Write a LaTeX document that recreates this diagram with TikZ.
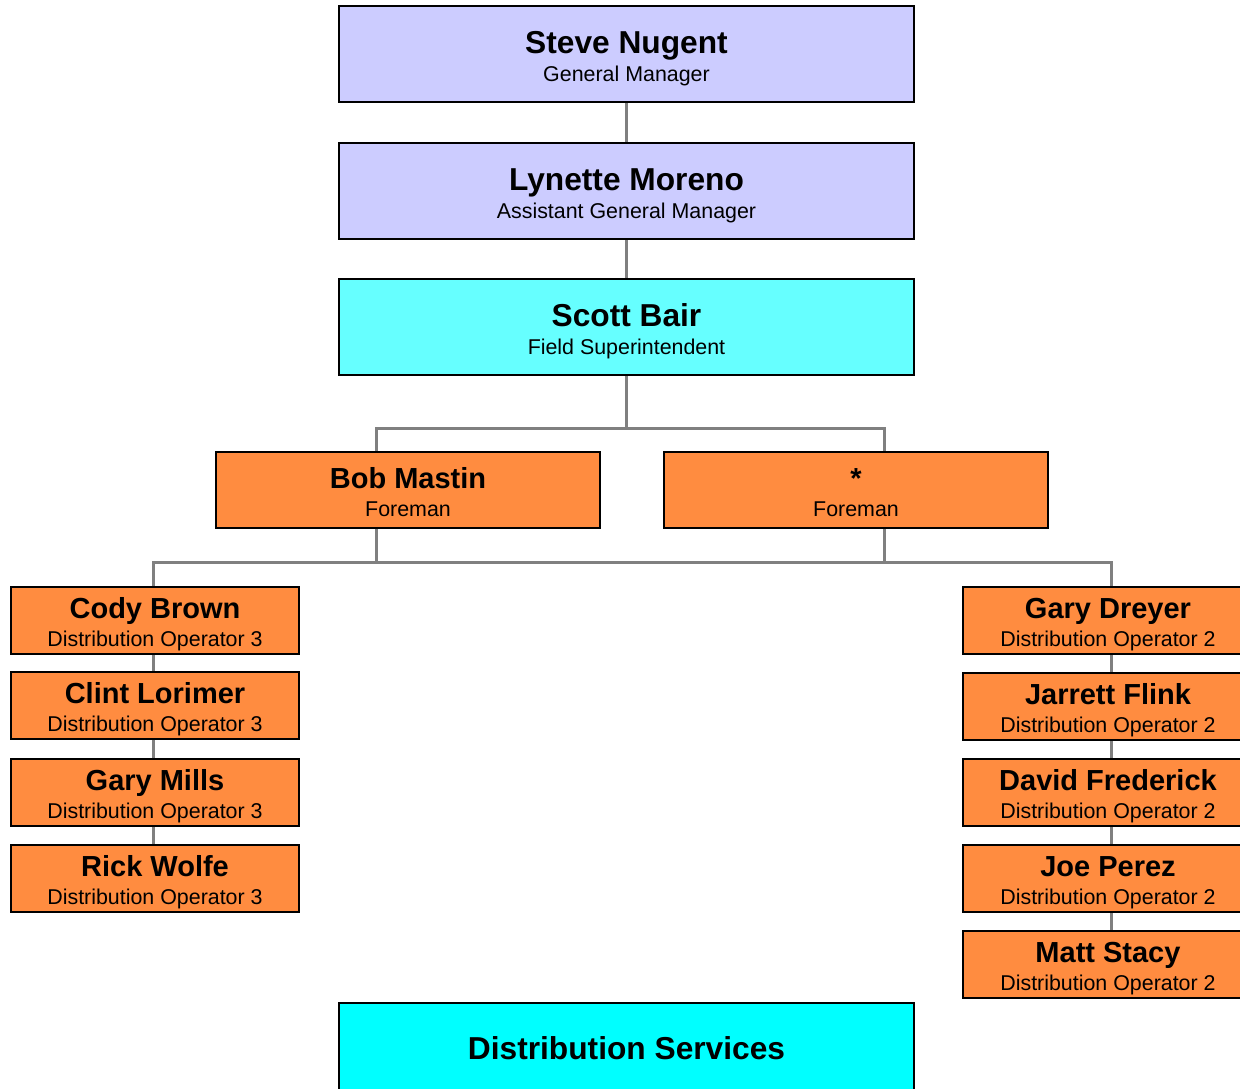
\documentclass[tikz,border=0pt]{standalone}
\usepackage{fontspec}
\setmainfont{Liberation Sans}
\definecolor{lav}{HTML}{CCCCFF}
\definecolor{aqua1}{HTML}{66FFFF}
\definecolor{org}{HTML}{FF8C40}
\definecolor{cyan1}{HTML}{00FFFF}
\definecolor{conngray}{HTML}{808080}
\tikzset{
  box/.style={draw=black, line width=2pt, rectangle, inner sep=0pt, outer sep=0pt},
  big/.style={fill=lav},
  sup/.style={fill=aqua1},
  fore/.style={fill=org},
  small/.style={fill=org},
  bigt/.style={inner sep=0pt, font=\fontsize{31.7}{36}\selectfont\bfseries},
  supt/.style={inner sep=0pt, font=\fontsize{31.7}{36}\selectfont\bfseries},
  foret/.style={inner sep=0pt, font=\fontsize{29}{34}\selectfont\bfseries},
  smallt/.style={inner sep=0pt, font=\fontsize{29}{34}\selectfont\bfseries},
  subt/.style={inner sep=0pt, font=\fontsize{21.4}{25}\selectfont},
  conn/.style={draw=conngray, line width=3pt}
}
\newcommand\obox[9]{%
  \node[box,#6,minimum width={#4-#2},minimum height={#5-#3}] (#1) at ({(#2+#4)/2},{(#3+#5)/2}) {};
  \node[#6t,anchor=base] (#1-t) at ({(#2+#4)/2},{#3+#9}) {#7};
  \node[subt,anchor=base] (#1-s) at ({(#2+#4)/2},{#3+#9+28}) {#8};
}
\begin{document}
\begin{tikzpicture}[x=1pt,y=-1pt]
\useasboundingbox (0,0) rectangle (1240,1088);
% connectors
\coordinate (j1) at (626,428);
\coordinate (bus1) at (376,562);
\coordinate (bus2) at (884,562);
\coordinate (bobtop) at (376,452);
\coordinate (foretop) at (884,452);
\coordinate (bobbot) at (376,528);
\coordinate (forebot) at (884,528);
\coordinate (steveb) at (626,102);
\coordinate (lynt) at (626,143);
\coordinate (lynb) at (626,239);
\coordinate (scottt) at (626,279);
\coordinate (scottb) at (626,375);
\draw[conn] (steveb) -- (lynt);
\draw[conn] (lynb) -- (scottt);
\draw[conn] (scottb) -- (j1);
\draw[conn] (bobtop) |- (j1) -| (foretop);
\draw[conn] (bobbot) -- (bus1);
\draw[conn] (forebot) -- (bus2);
\coordinate (ltop) at (153,587);
\coordinate (rtop) at (1111,587);
\draw[conn] (ltop) |- (bus1) -- (bus2) -| (rtop);
\coordinate (lcol1) at (153,654);
\coordinate (lcol2) at (153,845);
\draw[conn] (lcol1) -- (lcol2);
\coordinate (rcol1) at (1111,654);
\coordinate (rcol2) at (1111,931);
\draw[conn] (rcol1) -- (rcol2);
% boxes
\obox{steve}{339}{6}{914}{102}{big}{Steve Nugent}{General Manager}{47}
\obox{lynette}{339}{143}{914}{239}{big}{Lynette Moreno}{Assistant General Manager}{47}
\obox{scott}{339}{279}{914}{375}{sup}{Scott Bair}{Field Superintendent}{47}
\obox{bob}{216}{452}{600}{528}{fore}{Bob Mastin}{Foreman}{36}
\obox{vac}{664}{452}{1048}{528}{fore}{*}{Foreman}{36}
\obox{cody}{11}{587}{299}{654}{small}{Cody Brown}{Distribution Operator 3}{31}
\obox{clint}{11}{672}{299}{739}{small}{Clint Lorimer}{Distribution Operator 3}{31}
\obox{mills}{11}{759}{299}{826}{small}{Gary Mills}{Distribution Operator 3}{31}
\obox{rick}{11}{845}{299}{912}{small}{Rick Wolfe}{Distribution Operator 3}{31}
\obox{dreyer}{963}{587}{1253}{654}{small}{Gary Dreyer}{Distribution Operator 2}{31}
\obox{flink}{963}{673}{1253}{740}{small}{Jarrett Flink}{Distribution Operator 2}{31}
\obox{david}{963}{759}{1253}{826}{small}{David Frederick}{Distribution Operator 2}{31}
\obox{joe}{963}{845}{1253}{912}{small}{Joe Perez}{Distribution Operator 2}{31}
\obox{matt}{963}{931}{1253}{998}{small}{Matt Stacy}{Distribution Operator 2}{31}
\node[box,fill=cyan1,minimum width=575,minimum height=100] (ds) at (626.5,1053) {};
\node[bigt,anchor=base] (ds-t) at (626.5,1059) {Distribution Services};
\end{tikzpicture}
\end{document}
